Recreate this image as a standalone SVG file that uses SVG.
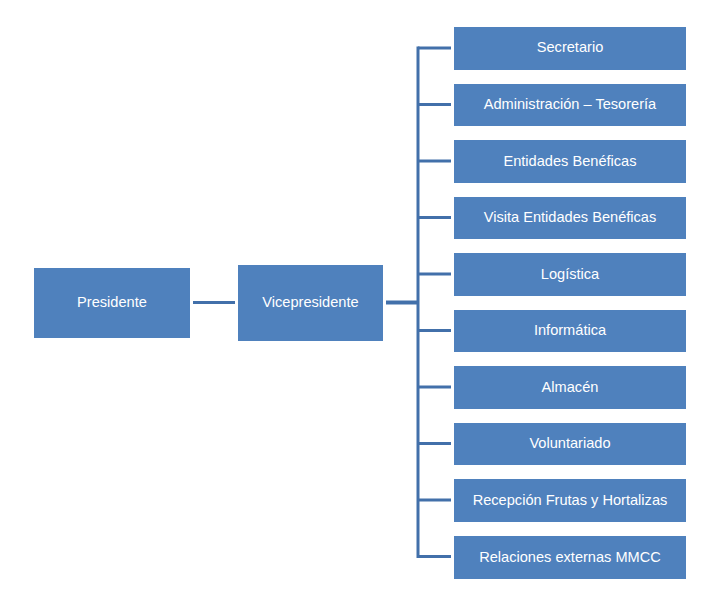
<svg xmlns="http://www.w3.org/2000/svg" width="717" height="602" viewBox="0 0 717 602">
<style>
.box{fill:#4F81BD;}
.lbl{fill:#FFFFFF;font-family:"Liberation Sans",Arial,sans-serif;font-size:14.6px;text-anchor:middle;dominant-baseline:central;}
.ln{stroke:#4270AA;stroke-width:3;fill:none;}
</style>
<rect width="717" height="602" fill="#FFFFFF"/>
<g id="connectors">
<line class="ln" x1="193" y1="302.5" x2="235" y2="302.5"/>
<line class="ln" x1="386" y1="302.5" x2="418" y2="302.5" style="stroke-width:4"/>
<line class="ln" x1="418" y1="46.5" x2="418" y2="558"/>
<line class="ln" x1="418" y1="48" x2="451" y2="48"/>
<line class="ln" x1="418" y1="104.5" x2="451" y2="104.5"/>
<line class="ln" x1="418" y1="161" x2="451" y2="161"/>
<line class="ln" x1="418" y1="217.5" x2="451" y2="217.5"/>
<line class="ln" x1="418" y1="274" x2="451" y2="274"/>
<line class="ln" x1="418" y1="330.5" x2="451" y2="330.5"/>
<line class="ln" x1="418" y1="387" x2="451" y2="387"/>
<line class="ln" x1="418" y1="443.5" x2="451" y2="443.5"/>
<line class="ln" x1="418" y1="500" x2="451" y2="500"/>
<line class="ln" x1="418" y1="556.5" x2="451" y2="556.5"/>
</g>
<g id="presidente"><rect class="box" x="34" y="268" width="156" height="70"/><text class="lbl" x="112" y="302">Presidente</text></g>
<g id="vicepresidente"><rect class="box" x="238" y="265" width="145" height="76"/><text class="lbl" x="310.5" y="302">Vicepresidente</text></g>
<g id="secretario"><rect class="box" x="454" y="27" width="232" height="43"/><text class="lbl" x="570" y="47">Secretario</text></g>
<g id="administracion"><rect class="box" x="454" y="84" width="232" height="42"/><text class="lbl" x="570" y="104">Administración – Tesorería</text></g>
<g id="entidades"><rect class="box" x="454" y="140" width="232" height="43"/><text class="lbl" x="570" y="160.5">Entidades Benéficas</text></g>
<g id="visita"><rect class="box" x="454" y="197" width="232" height="42"/><text class="lbl" x="570" y="217">Visita Entidades Benéficas</text></g>
<g id="logistica"><rect class="box" x="454" y="253" width="232" height="43"/><text class="lbl" x="570" y="273.5">Logística</text></g>
<g id="informatica"><rect class="box" x="454" y="310" width="232" height="42"/><text class="lbl" x="570" y="330">Informática</text></g>
<g id="almacen"><rect class="box" x="454" y="366" width="232" height="43"/><text class="lbl" x="570" y="386.5">Almacén</text></g>
<g id="voluntariado"><rect class="box" x="454" y="423" width="232" height="42"/><text class="lbl" x="570" y="443">Voluntariado</text></g>
<g id="recepcion"><rect class="box" x="454" y="479" width="232" height="43"/><text class="lbl" x="570" y="499.5">Recepción Frutas y Hortalizas</text></g>
<g id="relaciones"><rect class="box" x="454" y="536" width="232" height="43"/><text class="lbl" x="570" y="556.5">Relaciones externas MMCC</text></g>
</svg>
